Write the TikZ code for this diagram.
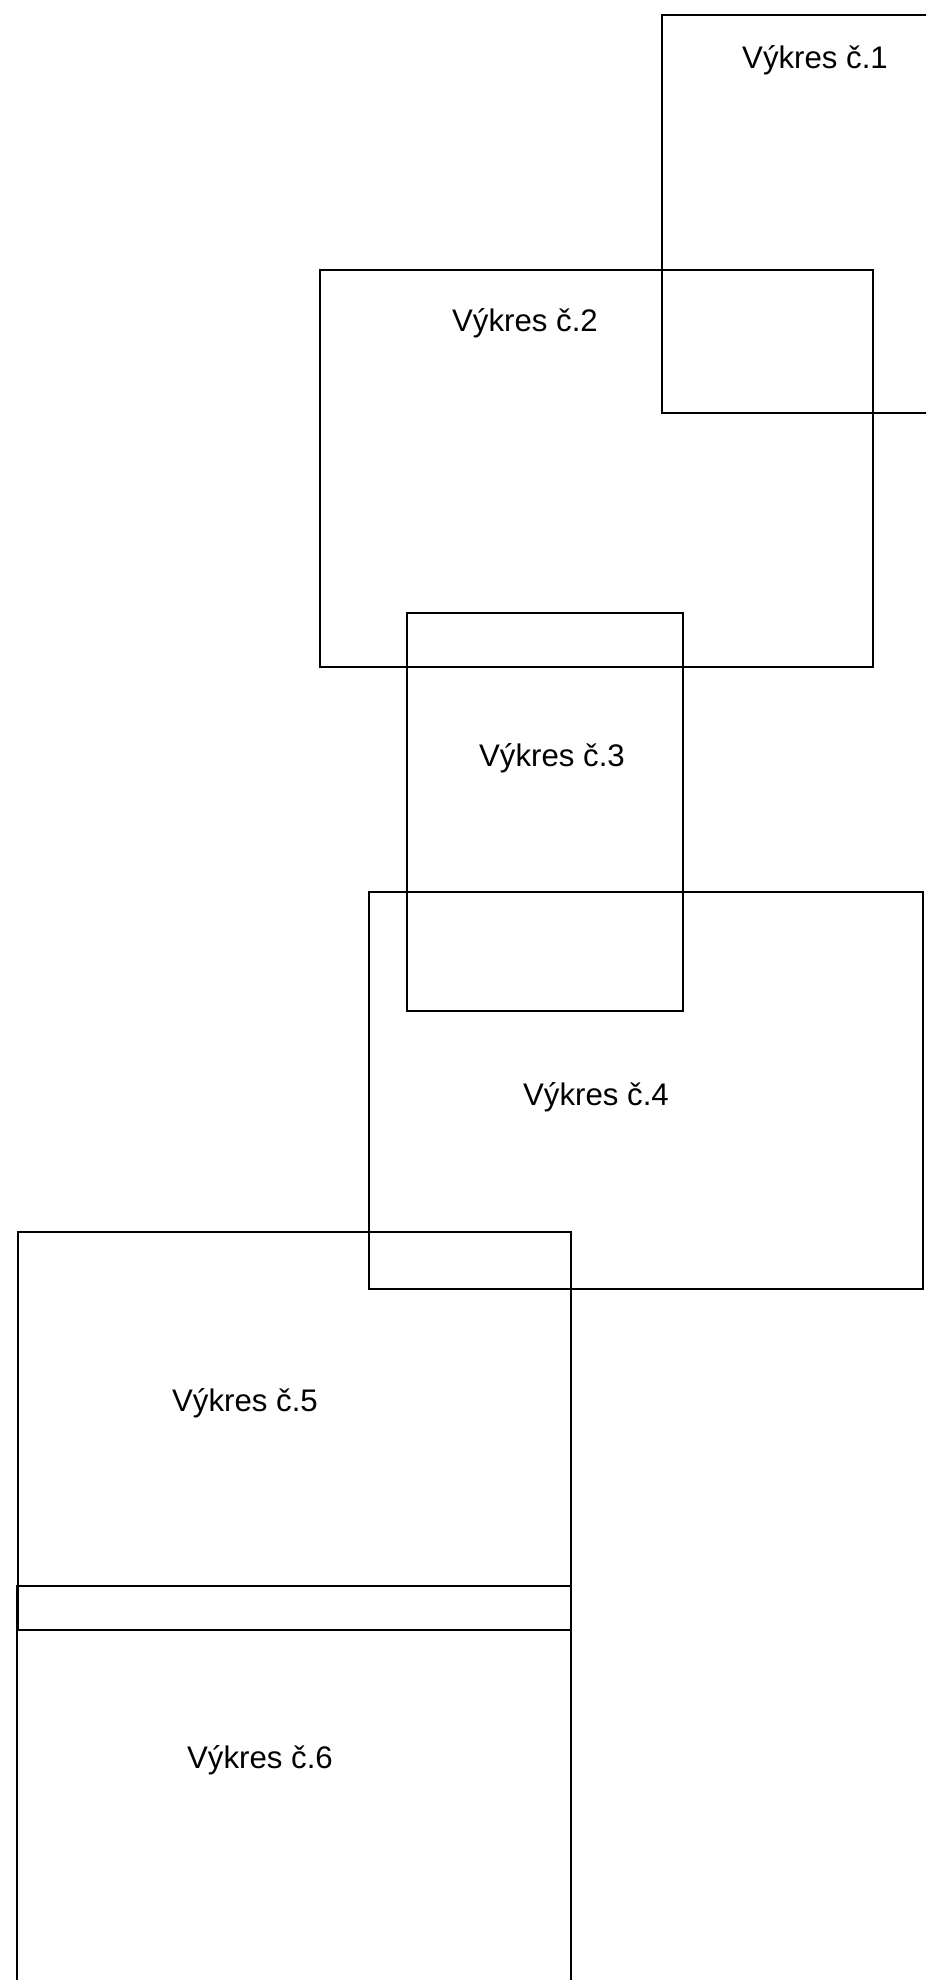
\documentclass[tikz,border=0pt]{standalone}
\usepackage{fontspec}
\setmainfont{Liberation Sans}
\usepackage{tikz}
\usetikzlibrary{positioning}

\begin{document}
\begin{tikzpicture}[x=0.5pt,y=-0.5pt,
    sheet/.style={draw,line width=0.7pt},
    sheetname/.style={font=\fontsize{15.6}{18}\selectfont,inner sep=0pt}]
  \useasboundingbox (0,0) rectangle (926,1980);
  \clip (0,0) rectangle (926,1980);
  \draw[sheet] (662,15) rectangle (939,413);
  \draw[sheet] (320,270) rectangle (873,667);
  \draw[sheet] (407,613) rectangle (683,1011);
  \draw[sheet] (369,892) rectangle (923,1289);
  \draw[sheet] (18,1232) rectangle (571,1630);
  \draw[sheet] (17,1586) rectangle (571,1984);
  \node[sheetname] (v1) at (815,60) {Výkres č.1};
  \node[sheetname] (v2) at (525,323) {Výkres č.2};
  \node[sheetname] (v3) at (552,758) {Výkres č.3};
  \node[sheetname] (v4) at (596,1097) {Výkres č.4};
  \node[sheetname] (v5) at (245,1403) {Výkres č.5};
  \node[sheetname] (v6) at (260,1760) {Výkres č.6};
\end{tikzpicture}
\end{document}
